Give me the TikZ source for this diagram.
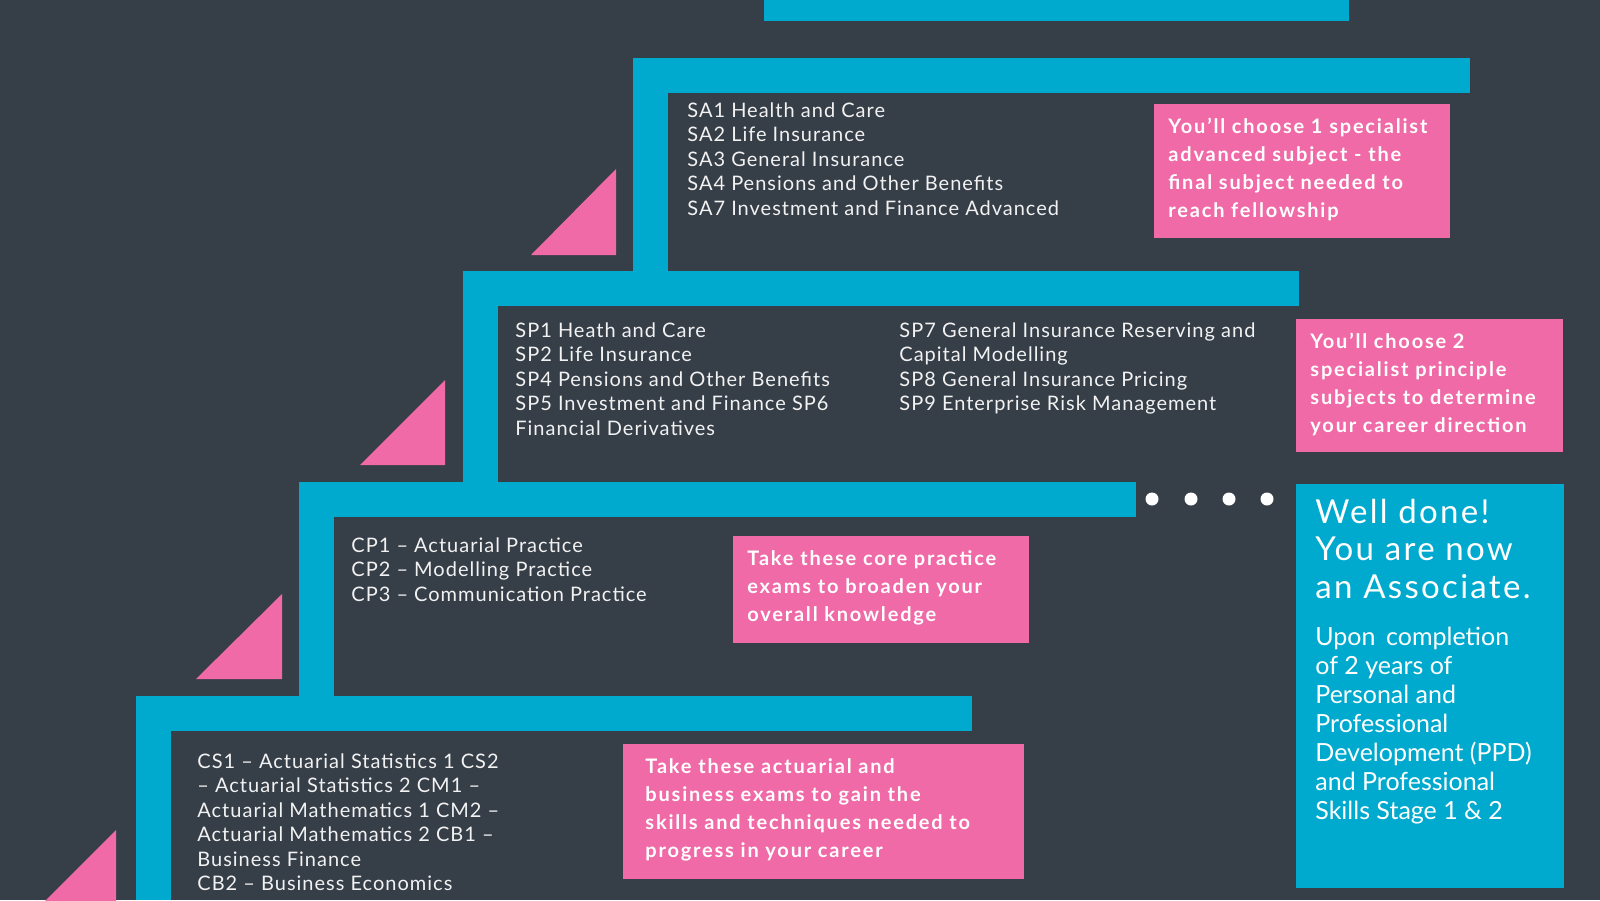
\documentclass[tikz,border=0pt]{standalone}
\usepackage{fontspec}
\setmainfont{Lato}
\newfontfamily\listfont[LetterSpace=5]{Lato}
\newfontfamily\notefont[LetterSpace=9]{Lato}
\newfontfamily\titlefont[LetterSpace=7]{Lato}
\definecolor{slate}{RGB}{54,62,72}
\definecolor{stepblue}{RGB}{0,170,206}
\definecolor{notepink}{RGB}{239,106,166}
\definecolor{paper}{RGB}{242,242,242}
\tikzset{
  listtext/.style={anchor=base west, inner sep=0pt, align=left, text=paper, font=\listfont\fontsize{10}{12.25}\selectfont},
  notetext/.style={anchor=base west, inner sep=0pt, align=left, text=white, font=\notefont\bfseries\fontsize{10}{14.1}\selectfont},
  bigtext/.style={anchor=base west, inner sep=0pt, align=left, text=white}
}

\begin{document}
\begin{tikzpicture}[x=0.5pt, y=-0.5pt]
		%%%%% START %%%%%
		
		\fill[slate] (0, 0) rectangle (1600, 900);
		\useasboundingbox (0, 0) rectangle (1600, 900);
		\clip (0, 0) rectangle (1600, 900);
		
		\fill[stepblue] (764, 0) rectangle (1349, 21);
		
		% advanced step
		\fill[stepblue] (633, 58) rectangle (1470, 93);
		\fill[stepblue] (633, 58) rectangle (668, 271);
		\fill[notepink] (531, 255) -- (616, 255) -- (616, 169) -- cycle;
		
		% principle step
		\fill[stepblue] (463, 271) rectangle (1299, 306);
		\fill[stepblue] (463, 271) rectangle (498, 482);
		\fill[notepink] (360, 465) -- (445, 465) -- (445, 380) -- cycle;
		
		% practice step
		\fill[stepblue] (299, 482) rectangle (1136, 517);
		\fill[stepblue] (299, 482) rectangle (334, 696);
		\fill[notepink] (196, 679) -- (282, 679) -- (282, 594) -- cycle;
		
		% core step
		\fill[stepblue] (136, 696) rectangle (972, 731);
		\fill[stepblue] (136, 696) rectangle (171, 900);
		\fill[notepink] (31, 915) -- (116, 915) -- (116, 830) -- cycle;
		
		\foreach \x in {1152, 1191, 1229, 1267}
			\fill[white] (\x, 499) circle (6.5);
		
		% the base anchor of each list is its last line
		\node[listtext] (salist) at (687, 215) {SA1 Health and Care\\SA2 Life Insurance\\SA3 General Insurance\\SA4 Pensions and Other Benefits\\SA7 Investment and Finance Advanced};
		\fill[notepink] (1154, 104) rectangle (1450, 238);
		\node[notetext] (sanote) at (1168, 217.6) {You’ll choose 1 specialist\\advanced subject - the\\final subject needed to\\reach fellowship};
		
		\node[listtext] (splist) at (515, 435) {SP1 Heath and Care\\SP2 Life Insurance\\SP4 Pensions and Other Benefits\\SP5 Investment and Finance SP6\\Financial Derivatives};
		\node[listtext] (splistb) at (899, 410.5) {SP7 General Insurance Reserving and\\Capital Modelling\\SP8 General Insurance Pricing\\SP9 Enterprise Risk Management};
		\fill[notepink] (1296, 319) rectangle (1563, 452);
		\node[notetext] (spnote) at (1310, 432.6) {You’ll choose 2\\specialist principle\\subjects to determine\\your career direction};
		
		\node[listtext] (cplist) at (351, 601) {CP1 – Actuarial Practice\\CP2 – Modelling Practice\\CP3 – Communication Practice};
		\fill[notepink] (733, 536) rectangle (1029, 643);
		\node[notetext] (cpnote) at (747, 621.4) {Take these core practice\\exams to broaden your\\overall knowledge};
		
		\node[listtext] (cslist) at (197, 890.5) {CS1 – Actuarial Statistics 1 CS2\\– Actuarial Statistics 2 CM1 –\\Actuarial Mathematics 1 CM2 –\\Actuarial Mathematics 2 CB1 –\\Business Finance\\CB2 – Business Economics};
		\fill[notepink] (623, 744) rectangle (1024, 879);
		\node[notetext] (csnote) at (645, 857.6) {Take these actuarial and\\business exams to gain the\\skills and techniques needed to\\progress in your career};
		
		\fill[stepblue] (1296, 484) rectangle (1564, 888);
		\node[bigtext, font=\titlefont\fontsize{16.5}{18.75}\selectfont] (welldone) at (1315, 598) {Well done!\\You are now\\an Associate.};
		\node[bigtext, font=\fontsize{12.5}{14.5}\selectfont] (ppd) at (1315, 819) {Upon\, completion\\of 2 years of\\Personal and\\Professional\\Development (PPD)\\and Professional\\Skills Stage 1 \& 2};
		
		%%%%% END %%%%%
	\end{tikzpicture}
\end{document}
